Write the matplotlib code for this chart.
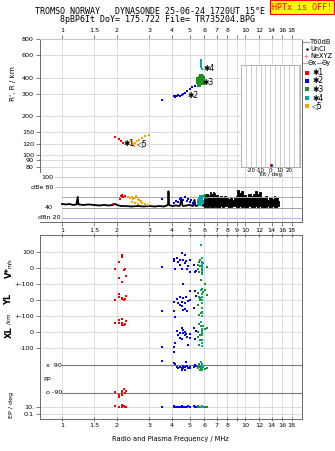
import numpy as np
import matplotlib
matplotlib.use("Agg")
import matplotlib.pyplot as plt
from matplotlib.lines import Line2D
from matplotlib.transforms import blended_transform_factory

# ---- frequency axis ----
grid_f = [1, 1.5, 2, 3, 4, 5, 6, 7, 8, 9, 10, 12, 14, 16, 18]
grid_lab = ['1', '1.5', '2', '3', '4', '5', '6', '7', '8', '9', '10', '12', '14', '16', '18']

# ---- virtual height panel (R' / km) ----
r_ticks = [80, 90, 100, 120, 150, 200, 300, 400, 600, 800]
red_hf = [1.94, 2.05, 2.10, 2.15]
red_h = [136, 133, 127, 123]
orange_hf = [2.30, 2.37, 2.40, 2.42, 2.45, 2.48, 2.50, 2.56, 2.63, 2.73, 2.86, 2.99]
orange_h = [121, 128, 118, 123, 120, 117, 123, 127, 131, 135, 139, 141]
blue_hf = [3.50, 4.09, 4.13, 4.16, 4.24, 4.33, 4.42, 4.51, 4.60, 4.70, 4.80, 5.00, 5.15, 5.33]
blue_h = [269, 289, 283, 285, 285, 290, 289, 292, 298, 305, 312, 326, 335, 346]
green_hf = [5.52, 5.58, 5.62, 5.66, 5.70, 5.74, 5.78, 5.82, 5.86, 5.90, 5.64, 5.72, 5.80, 5.88, 5.55, 5.68, 5.76, 5.84]
green_h = [372, 385, 360, 395, 378, 400, 365, 388, 375, 395, 352, 410, 405, 360, 392, 368, 382, 398]
teal_hf = [5.72, 5.74, 5.76, 5.78, 5.80, 5.74, 5.78, 5.76]
teal_h = [480, 500, 520, 545, 470, 535, 490, 510]

# ---- amplitude panel (dB) ----
trace_f = [1.0, 1.05, 1.1, 1.15, 1.2, 1.22, 1.23, 1.25, 1.3, 1.4, 1.5, 1.6, 1.7, 1.8, 1.9, 1.95,
           2.0, 2.1, 2.2, 2.4, 2.6, 2.8, 3.0, 3.2, 3.4, 3.6, 3.75, 3.8, 3.82, 3.85, 3.9, 4.0,
           4.2, 4.4, 4.5, 4.55, 4.6, 4.8, 5.0, 5.2, 5.3, 5.35, 5.4, 5.6, 5.9]
trace_db = [47, 46, 47, 45, 46, 61, 46, 46, 45, 46, 45, 44, 45, 44, 45, 47,
            45, 43, 43, 42, 43, 42, 43, 42, 43, 42, 44, 47, 72, 45, 44, 43,
            44, 43, 57, 44, 43, 44, 45, 43, 55, 44, 43, 45, 44]
blk_f = [5.9, 6.0, 6.1, 6.2, 6.3, 6.4, 6.5, 6.6, 6.7, 6.8, 6.9, 7.0, 7.2, 7.4, 7.6, 7.8, 8.0, 8.2,
         8.4, 8.6, 8.8, 9.0, 9.2, 9.4, 9.6, 9.8, 10.0, 10.3, 10.6, 10.9, 11.2, 11.5, 11.8, 12.1,
         12.4, 12.7, 13.0, 13.3, 13.6, 13.9, 14.2, 14.5, 14.8, 15.1, 15.4]
blk_hi = [52, 65, 62, 66, 60, 64, 70, 66, 71, 68, 62, 64, 60, 63, 58, 62, 59, 57,
          60, 55, 58, 62, 74, 68, 72, 64, 65, 60, 66, 62, 67, 72, 66, 70,
          61, 58, 62, 55, 60, 61, 57, 62, 58, 61, 53]
blk_lo = [42, 41, 42, 40, 41, 42, 41, 40, 42, 41, 42, 41, 40, 42, 41, 42, 42, 40,
          41, 42, 42, 41, 40, 42, 41, 42, 41, 40, 42, 41, 40, 42, 41, 42,
          41, 40, 41, 42, 40, 41, 42, 41, 40, 42, 42]
red_df = [1.91, 2.07, 2.10, 2.13, 2.16, 2.20]
red_db = [47, 57, 62, 65, 60, 63]
orange_df = [2.30, 2.35, 2.40, 2.45, 2.50, 2.55, 2.60, 2.65, 2.70, 2.75, 2.42, 2.52, 2.62, 2.72, 2.85, 2.95]
orange_db = [60, 58, 61, 56, 59, 62, 57, 55, 52, 49, 50, 48, 46, 51, 47, 44]
blue_df = [3.50, 4.10, 4.20, 4.30, 4.40, 4.50, 4.60, 4.70, 4.80, 4.90, 5.00, 5.10, 5.20, 5.30]
blue_db = [57, 49, 53, 51, 56, 58, 54, 60, 52, 57, 50, 55, 48, 47]
green_df = [5.55, 5.65, 5.75, 5.85, 5.95, 6.05, 6.15, 5.70, 5.90]
green_db = [54, 58, 60, 56, 62, 64, 59, 50, 52]
teal_df = [5.60, 5.65, 5.70, 5.75, 5.80, 5.70, 5.75, 5.62]
teal_db = [50, 55, 57, 53, 50, 47, 60, 52]

# ---- velocity / location / polarisation panel ----
red_f = [1.95, 2.04, 2.05, 2.12, 2.13, 2.14, 2.17, 2.22, 2.23]
red_vs = [-6, 37, -65, -85, 79, 70, -10, -6, -48]
red_yl = [0, 19, 40, 8, 10, 14, 0, 8, 25]
red_xl = [58, 58, 73, 44, 81, 58, 46, 50, 69]
red_pp = [-82, -100, -113, -86, -76, -102, -67, -90, -77]
red_ep = [18, 10, 9, 11, 25, 10, 12, 9, 10]

blue_f = [3.50, 4.09, 4.12, 4.14, 4.24, 4.33, 4.39, 4.42, 4.51, 4.51, 4.56, 4.60,
          4.70, 4.70, 4.76, 4.80, 4.89, 5.00, 5.00, 5.26, 5.33, 5.43]
blue_vs = [8, 46, 55, -6, 60, 40, 19, 48, 92, -8, -102, 50, 81, 29, 46, -6, 12, 50, -23, 19, -27, -19]
blue_yl = [-69, -10, -67, -104, 5, -17, -30, 21, -10, -40, -63, 10, -58, -20, 17, -67, -5, 58, 0, -52, 58, 25]
blue_xl = [-92, -96, -123, -71, 8, -19, -35, -5, 23, -46, 10, -8, 2, -20, -10, -29, -81, -12, -40, 23, -46, 8]
blue_pp = [117, 173, 104, 98, 75, 69, 80, 80, 59, 69, 85, 69, 59, 75, 111, 85, 70, 69, 80, 80, 90, 85]
blue_ep = [10, 10, 12, 8, 10, 9, 11, 10, 8, 12, 10, 9, 10, 11, 8, 10, 12, 9, 10, 20, 10, 9]

green_f = [5.52, 5.56, 5.60, 5.62, 5.65, 5.70, 5.75, 5.80, 5.85, 5.92, 6.05, 6.18]
green_vs = [20, -8, 39, -23, 13, 50, -75, -13, -33, 29, -100, 4]
green_yl = [-31, 42, 21, -94, 0, 10, -79, 67, -73, 52, 62, 30]
green_xl = [-29, 2, -81, 50, -50, -19, 37, 10, -5, 37, 17, 25]
green_pp = [75, 68, 85, 95, 60, 80, 70, 90, 65, 78, 62, 72]
green_ep = [10, 12, 9, 10, 11, 8, 10, 12, 9, 10, 11, 10]

teal_f = [5.78, 5.80, 5.80, 5.82, 5.82, 5.84, 5.84, 5.86]
teal_vs = [144, 60, 40, 25, 10, 0, -20, -40]
teal_yl = [60, 40, 20, 0, -20, -50, -80, -100]
teal_xl = [60, 40, 20, 0, -20, -50, -70, -90]
teal_pp = [110, 95, 85, 75, 70, 65, 60, 80]
teal_ep = [10, 8, 12, 9, 11, 7, 10, 13]

# ---- tilt inset ----
tilt_x = [0.6, 1.6]
tilt_top = [3.0, 3.0]
tilt_cols = ['#ff0000', '#0000ff']

RED, BLUE, GREEN, TEAL, ORANGE = '#ff0000', '#0000ff', '#1f8f1f', '#00a8a8', '#ffa500'
GRID = '#d6d6d6'
SPINE = '#6a6a6a'

plt.rcParams['font.family'] = ['DejaVu Sans']
plt.rcParams['font.size'] = 4.6

W, H = 335, 451
fig = plt.figure(figsize=(W / 100, H / 100), dpi=100)
fig.patch.set_facecolor('white')


def box(x0, y0, x1, y1):
    return [x0 / W, 1 - y1 / H, (x1 - x0) / W, (y1 - y0) / H]


def px(x, y):
    return x / W, 1 - y / H


# composite y scale of the lower panel (m/s-like units)
def yl_y(v):
    return np.asarray(v) - 200


def xl_y(v):
    return np.asarray(v) - 400


def pp_y(v):
    return np.asarray(v) * 0.97 - 694


def ep_y(v):
    return -867 + 22.8 * np.log10(np.asarray(v, dtype=float) / 10)


ax_r = fig.add_axes(box(39.5, 39, 302, 173))
ax_d = fig.add_axes(box(39.5, 173, 302, 222))
ax_b = fig.add_axes(box(39.5, 235, 302, 419))
ax_t = fig.add_axes(box(241, 65, 300, 167))

for ax in (ax_r, ax_d, ax_b):
    ax.set_xscale('log')
    ax.set_xlim(0.754, 20.5)
    ax.set_xticks(grid_f)
    ax.minorticks_off()
    ax.grid(axis='x', color=GRID, lw=0.6)
    ax.set_axisbelow(True)
    for s in ax.spines.values():
        s.set_color(SPINE)
        s.set_linewidth(0.7)
    ax.tick_params(colors=SPINE, labelcolor='black', length=3, width=0.6, pad=1)

no9 = [l if l != '9' else '' for l in grid_lab]

# ---- top panel ----
ax_r.set_yscale('log')
ax_r.set_ylim(71.8, 800)
ax_r.set_yticks(r_ticks)
ax_r.set_yticklabels([str(v) for v in r_ticks])
ax_r.minorticks_off()
ax_r.grid(axis='y', color=GRID, lw=0.6)
ax_r.xaxis.tick_top()
ax_r.set_xticklabels(no9)
ax_r.tick_params(axis='x', pad=1.2)
ax_r.spines['bottom'].set_visible(False)
ax_r.spines['top'].set_color('#c8c8c8')
ax_r.plot(red_hf, red_h, 's', color=RED, ms=1.9, mew=0)
ax_r.plot(orange_hf, orange_h, 's', color=ORANGE, ms=1.9, mew=0)
ax_r.plot(blue_hf, blue_h, 's', color=BLUE, ms=1.9, mew=0)
ax_r.plot(green_hf, green_h, 's', color=GREEN, ms=2.2, mew=0)
ax_r.plot(teal_hf, teal_h, 's', color=TEAL, ms=2.0, mew=0)
sym = dict(family=['DejaVu Sans'], fontsize=5.5, va='center', ha='left')
ax_r.text(2.16, 122, '\u27311', **sym)
ax_r.text(2.58, 121, '\u25c15', **sym)
ax_r.text(4.85, 289, '\u27312', **sym)
ax_r.text(5.85, 366, '\u27313', **sym)
ax_r.text(5.95, 468, '\u27314', **sym)
fig.text(*px(13, 84), "R', R / km", rotation=90, ha='center', va='center', fontsize=5.2)

# ---- tilt inset ----
ax_t.set_xlim(-30.5, 31.5)
ax_t.set_ylim(0, 100)
ax_t.set_xticks([-25, -20, -15, -10, -5, 0, 5, 10, 15, 20, 25, 30])
ax_t.set_xticklabels(['', '-20', '', '-10', '', '0', '', '10', '', '20', '', ''])
ax_t.set_yticks([])
ax_t.grid(axis='x', color='#c4c4c4', lw=0.6)
ax_t.tick_params(length=0, pad=0.5, labelsize=4)
for s in ax_t.spines.values():
    s.set_color('#a8a8a8')
    s.set_linewidth(0.6)
ax_t.set_xlabel('Tilt / deg', fontsize=4, labelpad=-0.5)
ax_t.vlines(tilt_x, 0, tilt_top, colors=tilt_cols, lw=1.1)
ax_t.set_zorder(3)

# ---- amplitude panel ----
ax_d.set_ylim(11.5, 107.9)
ax_d.set_yticks([])
ax_d.set_xticklabels(grid_lab)
ax_d.spines['top'].set_visible(False)
ax_d.spines['left'].set_visible(False)
ax_d.tick_params(axis='x', pad=1)
ax_d.axhline(100, xmin=0.059, color='#cfcfcf', lw=0.7)
ax_d.axhline(80, xmin=0.059, color='#bdbdbd', lw=0.7)
ax_d.axhline(60, xmin=0.086, color='#a8a8a8', lw=0.7)
ax_d.axhline(40, xmin=0.086, color='#a0a0a0', lw=0.7)
ax_d.axhline(20, xmin=0.086, color='#b4b4f0', lw=0.8)
lblt = blended_transform_factory(fig.transFigure, ax_d.transData)
ax_d.text(53 / W, 100, '100', transform=lblt, ha='right', va='center')
ax_d.text(53 / W, 80, 'dBe 80', transform=lblt, ha='right', va='center')
ax_d.text(53 / W, 40, '40', transform=lblt, ha='right', va='center')
ax_d.text(61 / W, 20, 'dBn 20', transform=lblt, ha='right', va='center')
ax_d.plot(trace_f, trace_db, color='black', lw=1.3)
ax_d.fill_between(blk_f, blk_lo, blk_hi, step='mid', color='black', lw=0.6)
ax_d.plot(red_df, red_db, 's', color=RED, ms=1.7, mew=0)
ax_d.plot(orange_df, orange_db, 's', color=ORANGE, ms=1.7, mew=0)
ax_d.plot(blue_df, blue_db, 's', color=BLUE, ms=1.7, mew=0)
ax_d.plot(green_df, green_db, 's', color=GREEN, ms=2.0, mew=0)
ax_d.plot(teal_df, teal_db, 's', color=TEAL, ms=2.6, mew=0)

# ---- lower panel ----
ax_b.set_ylim(-944, 206)
b_ticks = [100, 0, -100, -200, -300, -400, -500, float(ep_y(10)), float(ep_y(0.1))]
b_labels = ['100', '0', '+-100', '0', '+-100', '0', '-100', '10.', '0.1']
ax_b.set_yticks(b_ticks)
ax_b.set_yticklabels(b_labels)
ax_b.grid(axis='y', color=GRID, lw=0.6)
ax_b.set_xticklabels(no9)
ax_b.tick_params(axis='x', top=True, direction='inout', length=2.5, pad=1.5)
ax_b.axhline(float(pp_y(90)), xmin=0.086, color='#7a7a7a', lw=0.8)
ax_b.axhline(float(pp_y(-90)), xmin=0.086, color='#7a7a7a', lw=0.8)
bt = blended_transform_factory(fig.transFigure, ax_b.transData)
ax_b.text(62 / W, float(pp_y(90)), 'x  90', transform=bt, ha='right', va='center')
ax_b.text(62 / W, float(pp_y(-90)), 'o -90', transform=bt, ha='right', va='center')
ax_b.text(43 / W, float(pp_y(0)), 'PP', transform=bt, ha='left', va='center')
ax_b.set_xlabel('Radio and Plasma Frequency / MHz', fontsize=4.8, labelpad=6)

for f, vs, yl, xl, pp, ep, c in [
        (red_f, red_vs, red_yl, red_xl, red_pp, red_ep, RED),
        (blue_f, blue_vs, blue_yl, blue_xl, blue_pp, blue_ep, BLUE),
        (green_f, green_vs, green_yl, green_xl, green_pp, green_ep, GREEN),
        (teal_f, teal_vs, teal_yl, teal_xl, teal_pp, teal_ep, TEAL)]:
    kw = dict(ls='none', marker='s', color=c, ms=1.6, mew=0)
    ax_b.plot(f, vs, **kw)
    ax_b.plot(f, yl_y(yl), **kw)
    ax_b.plot(f, xl_y(xl), **kw)
    ax_b.plot(f, pp_y(pp), **kw)
    ax_b.plot(f, ep_y(ep), **kw)

fig.text(*px(9, 273), 'V*', rotation=90, ha='center', va='center', fontsize=6, weight='bold')
fig.text(*px(9, 263), 'm/s', rotation=90, ha='center', va='center', fontsize=3.8)
fig.text(*px(9, 299), 'YL', rotation=90, ha='center', va='center', fontsize=6, weight='bold')
fig.text(*px(9, 319), '/km', rotation=90, ha='center', va='center', fontsize=4)
fig.text(*px(9, 332), 'XL', rotation=90, ha='center', va='center', fontsize=6, weight='bold')
fig.text(*px(12, 405), 'EP / deg', rotation=90, ha='center', va='center', fontsize=4.6)

# ---- side legend ----
def fig_line(x0, x1, y, c):
    fig.add_artist(Line2D([x0 / W, x1 / W], [1 - y / H] * 2, color=c, lw=0.9, transform=fig.transFigure))


leg = dict(ha='left', va='center', fontsize=4.8)
fig_line(303, 309, 42, '#a0a0a0')
fig.text(*px(310, 42), 'T60dB', **leg)
fig.add_artist(Line2D([307 / W], [1 - 49 / H], marker='.', ms=1.5, color='black', transform=fig.transFigure))
fig.text(*px(310, 49), 'UnCl', **leg)
fig.add_artist(Line2D([306 / W], [1 - 56 / H], marker='+', ms=3, mew=0.6, color='#ff6f8f', transform=fig.transFigure))
fig.text(*px(310, 56), 'NeXYZ', **leg)
fig_line(303, 307, 63, '#ff8a8a')
fig.text(*px(307.5, 63), '\u0398x', **leg)
fig_line(317, 321, 63, '#8a8aff')
fig.text(*px(322, 63), '\u0398y', **leg)
for y, c, t in [(72.7, RED, '\u27311'), (80.7, BLUE, '\u27312'), (89.3, GREEN, '\u27313'),
                (98.3, TEAL, '\u27314'), (106, ORANGE, '\u25c15')]:
    fig.add_artist(Line2D([307 / W], [1 - y / H], marker='s', ms=2.4, mew=0, color=c, transform=fig.transFigure))
    fig.text(*px(312, y), t, ha='left', va='center', fontsize=5.5)

# ---- header ----
mono = dict(family='DejaVu Sans Mono', fontsize=6, ha='center', va='center')
fig.text(*px(150, 12), 'TROMSO NORWAY   DYNASONDE 25-06-24 1720UT 15\u00b0E', **mono)
fig.text(*px(157, 20), '8pBP6It DoY= 175.722 File= TR735204.BPG', **mono)
fig.text(*px(302, 7), 'HPTx is OFF!', color='red', family='DejaVu Sans Mono', fontsize=6,
         ha='center', va='center',
         bbox=dict(boxstyle='square,pad=0.25', facecolor='#ffff00', edgecolor='red', lw=0.8))

fig.savefig('out.png', dpi=100)
